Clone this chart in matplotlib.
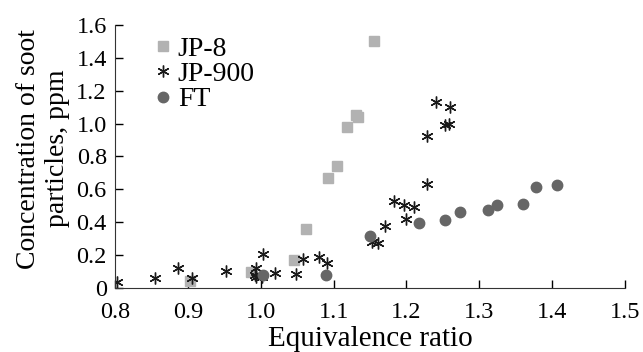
import numpy as np
import matplotlib
matplotlib.use('Agg')
import matplotlib.pyplot as plt

plt.rcParams['font.family'] = ['Liberation Serif', 'DejaVu Serif']

# JP-8 (gray squares)
jp8_x = [0.903, 0.987, 1.046, 1.062, 1.092, 1.104, 1.118, 1.131, 1.134, 1.155]
jp8_y = [0.04, 0.10, 0.17, 0.36, 0.67, 0.74, 0.98, 1.055, 1.04, 1.50]

# JP-900 (asterisks)
jp900_x = [0.802, 0.855, 0.886, 0.905, 0.952, 0.994, 0.993, 1.003, 0.992, 1.001,
           1.020, 1.048, 1.058, 1.080, 1.091, 1.152, 1.161, 1.171, 1.183, 1.196,
           1.210, 1.199, 1.228, 1.228, 1.240, 1.253, 1.258, 1.260]
jp900_y = [0.038, 0.059, 0.12, 0.063, 0.106, 0.12, 0.069, 0.207, 0.079, 0.069,
           0.093, 0.083, 0.175, 0.191, 0.15, 0.28, 0.272, 0.378, 0.532, 0.502,
           0.492, 0.419, 0.634, 0.922, 1.13, 0.99, 1.00, 1.10]

# FT (dark circles)
ft_x = [1.003, 1.089, 1.150, 1.217, 1.253, 1.273, 1.312, 1.324, 1.360, 1.378, 1.407]
ft_y = [0.079, 0.077, 0.317, 0.398, 0.415, 0.46, 0.476, 0.506, 0.510, 0.612, 0.628]

x_ticks = [0.8, 0.9, 1.0, 1.1, 1.2, 1.3, 1.4, 1.5]
y_ticks = [0, 0.2, 0.4, 0.6, 0.8, 1.0, 1.2, 1.4, 1.6]

fig = plt.figure(figsize=(6.43, 3.52), dpi=100)
ax = fig.add_axes([0.179, 0.182, 0.793, 0.747])

ax.plot(jp8_x, jp8_y, 's', color='#b2b2b2', markersize=7.5, label='JP-8', linestyle='none')
ax.plot(jp900_x, jp900_y, marker=(6, 2, 0), color='#1a1a1a', markersize=8.5, markeredgewidth=1.0,
        label='JP-900', linestyle='none')
ax.plot(ft_x, ft_y, 'o', color='#666666', markersize=7.5, label='FT', linestyle='none')

ax.set_xlim(0.8, 1.5)
ax.set_ylim(0, 1.6)
ax.set_xticks(x_ticks)
ax.set_xticklabels([f'{t:.1f}' for t in x_ticks])
ax.set_yticks(y_ticks)
ax.set_yticklabels(['0'] + [f'{t:.1f}' for t in y_ticks[1:]])
ax.tick_params(direction='in', length=6, width=1, labelsize=17.5)
ax.tick_params(axis='x', pad=10)
ax.tick_params(axis='y', pad=6)
ax.spines['top'].set_visible(False)
ax.spines['right'].set_visible(False)
ax.spines['left'].set_color('#333333')
ax.spines['bottom'].set_color('#333333')

ax.set_xlabel('Equivalence ratio', fontsize=21)
ax.xaxis.set_label_coords(0.5, -0.146)
ax.set_ylabel('Concentration of soot\nparticles, ppm', fontsize=20, linespacing=1.2)
ax.yaxis.set_label_coords(-0.088, 0.53)

leg = ax.legend(loc='upper left', bbox_to_anchor=(0.055, 1.0), frameon=False, fontsize=20,
                handlelength=0.6, handletextpad=0.25, labelspacing=0.0, borderaxespad=0)

plt.savefig('out.png', dpi=100)
